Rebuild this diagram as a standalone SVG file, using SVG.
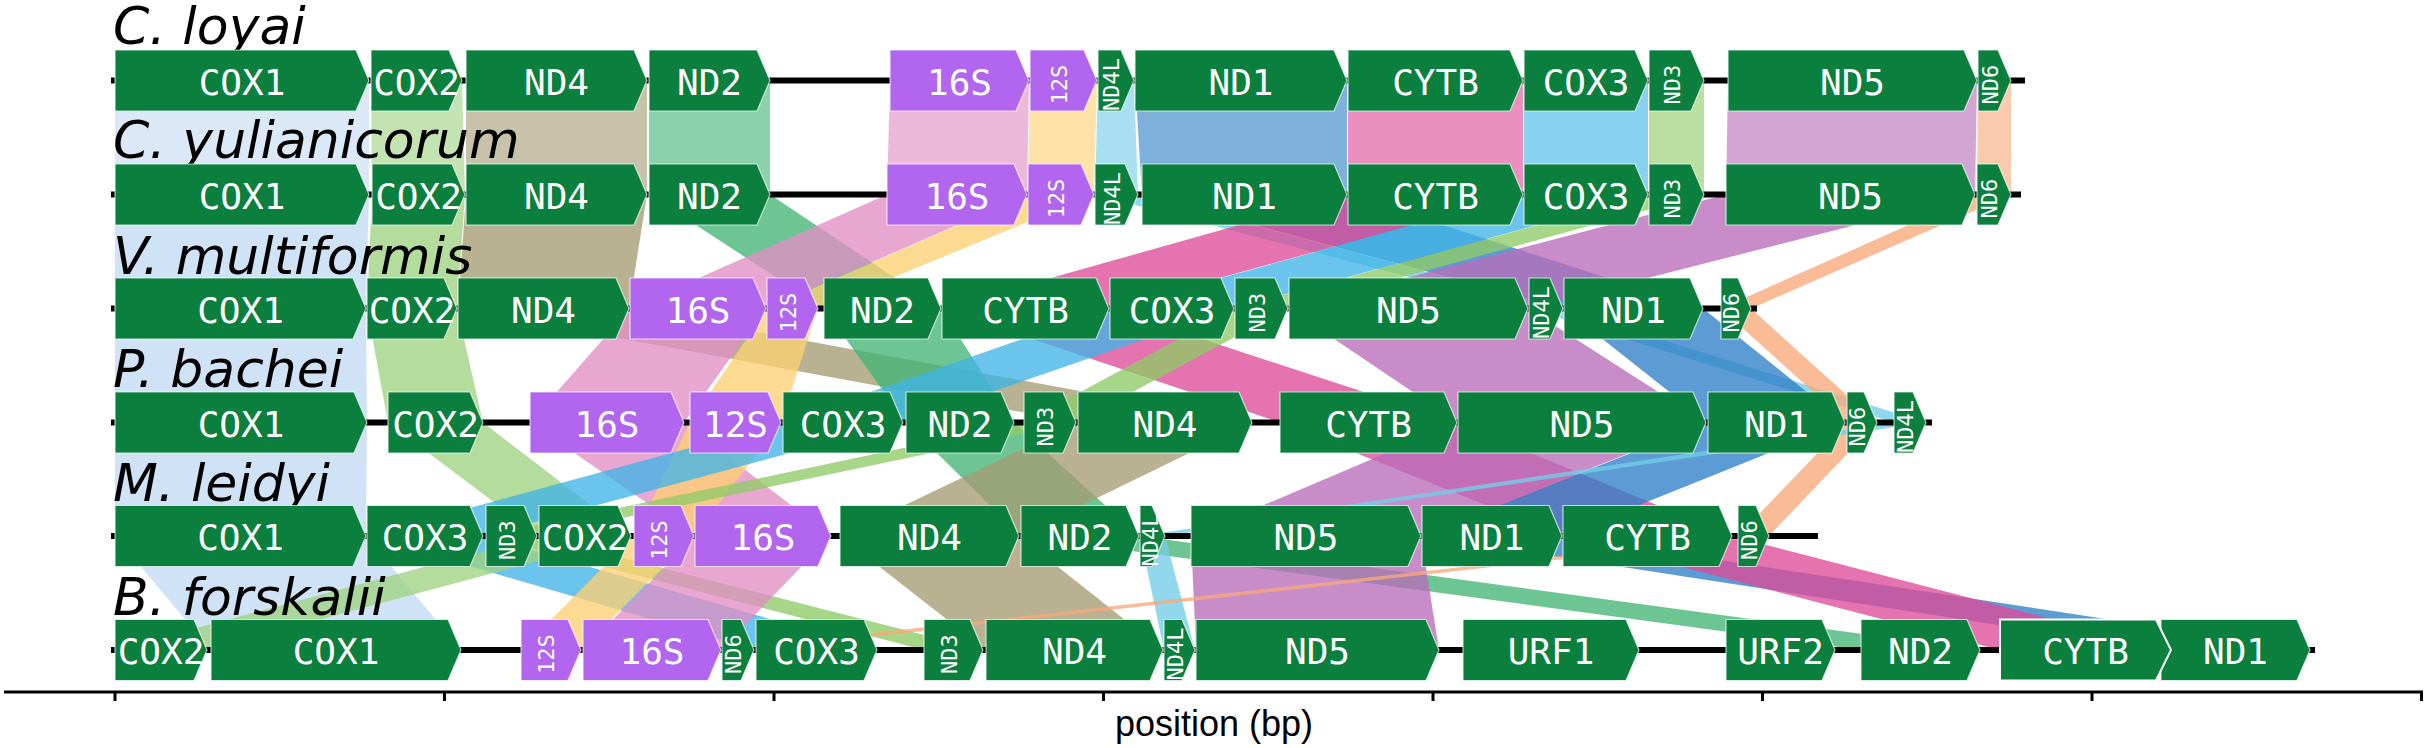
<svg xmlns="http://www.w3.org/2000/svg" width="2428" height="748" viewBox="0 0 2428 748">
<style>
.g{fill:#0b7f3e;stroke:#ffffff;stroke-width:1.2;stroke-opacity:0.7}
.r{fill:#b266f0;stroke:#ffffff;stroke-width:1.2;stroke-opacity:0.7}
.t{font-family:"DejaVu Sans Mono",monospace;font-size:36px;fill:#ffffff;text-anchor:middle}
.v{font-family:"DejaVu Sans Mono",monospace;font-size:22px;fill:#ffffff;text-anchor:middle}
.sp{font-family:"DejaVu Sans",sans-serif;font-style:italic;font-size:52px;fill:#000000}
.bl{stroke:#000000;stroke-width:6;fill:none}
.ax{stroke:#000000;stroke-width:3;fill:none}
.axl{font-family:"Liberation Sans",Arial,sans-serif;font-size:36px;fill:#000000;text-anchor:middle}
#connectors polygon{fill-opacity:0.78}
#connectors .p12 polygon{fill-opacity:0.62}
.COX1{fill:#c3daf2}.COX2{fill:#9ed282}.ND4{fill:#a49c74}.ND2{fill:#43b574}
.S16{fill:#e18ec4}.S12{fill:#fdd073}.ND4L{fill:#72cde8}.ND1{fill:#2e7fc6}
.CYTB{fill:#dc4c98}.COX3{fill:#41b4e6}.ND3{fill:#8fcb66}.ND5{fill:#b86db8}.ND6{fill:#f8a87a}
</style>
<g id="connectors">
<g class="p12">
<polygon class="COX1" points="115,80.5 369,80.5 369,194.5 115,194.5"/>
<polygon class="COX2" points="371,80.5 462,80.5 465,194.5 372,194.5"/>
<polygon class="ND4" points="466,80.5 647,80.5 647,194.5 466,194.5"/>
<polygon class="ND2" points="649,80.5 770,80.5 770,194.5 649,194.5"/>
<polygon class="S16" points="890,80.5 1029,80.5 1027,194.5 887,194.5"/>
<polygon class="S12" points="1030,80.5 1097,80.5 1094,194.5 1028,194.5"/>
<polygon class="ND4L" points="1098,80.5 1134,80.5 1138,194.5 1095,194.5"/>
<polygon class="ND1" points="1135,80.5 1347,80.5 1347,194.5 1142,194.5"/>
<polygon class="CYTB" points="1348,80.5 1523,80.5 1523,194.5 1348,194.5"/>
<polygon class="COX3" points="1524,80.5 1648,80.5 1648,194.5 1524,194.5"/>
<polygon class="ND3" points="1649,80.5 1704,80.5 1704,194.5 1649,194.5"/>
<polygon class="ND5" points="1728,80.5 1977,80.5 1975,194.5 1726,194.5"/>
<polygon class="ND6" points="1978,80.5 2011,80.5 2011,194.5 1977,194.5"/>
</g>
<g class="p23">
<polygon class="COX1" points="115,194.5 369,194.5 366,308.5 115,308.5"/>
<polygon class="COX2" points="372,194.5 465,194.5 457,308.5 367,308.5"/>
<polygon class="ND4" points="466,194.5 647,194.5 629,308.5 458,308.5"/>
<polygon class="ND2" points="649,194.5 770,194.5 941,308.5 824,308.5"/>
<polygon class="S16" points="887,194.5 1027,194.5 766,308.5 630,308.5"/>
<polygon class="S12" points="1028,194.5 1094,194.5 818,308.5 767,308.5"/>
<polygon class="ND4L" points="1095,194.5 1138,194.5 1563,308.5 1529,308.5"/>
<polygon class="ND1" points="1142,194.5 1347,194.5 1703,308.5 1564,308.5"/>
<polygon class="CYTB" points="1348,194.5 1523,194.5 1109,308.5 942,308.5"/>
<polygon class="COX3" points="1524,194.5 1648,194.5 1234,308.5 1110,308.5"/>
<polygon class="ND3" points="1649,194.5 1704,194.5 1288,308.5 1235,308.5"/>
<polygon class="ND5" points="1726,194.5 1975,194.5 1528,308.5 1289,308.5"/>
<polygon class="ND6" points="1977,194.5 2011,194.5 1751,308.5 1721,308.5"/>
</g>
<g class="p34">
<polygon class="COX1" points="115,308.5 366,308.5 367,422.5 115,422.5"/>
<polygon class="COX2" points="367,308.5 457,308.5 483,422.5 388,422.5"/>
<polygon class="ND4" points="458,308.5 629,308.5 1252,422.5 1078,422.5"/>
<polygon class="S16" points="630,308.5 766,308.5 684,422.5 530,422.5"/>
<polygon class="S12" points="767,308.5 818,308.5 781,422.5 690,422.5"/>
<polygon class="ND2" points="824,308.5 941,308.5 1014,422.5 906,422.5"/>
<polygon class="CYTB" points="942,308.5 1109,308.5 1457,422.5 1280,422.5"/>
<polygon class="COX3" points="1110,308.5 1234,308.5 903,422.5 783,422.5"/>
<polygon class="ND3" points="1235,308.5 1288,308.5 1076,422.5 1024,422.5"/>
<polygon class="ND5" points="1289,308.5 1528,308.5 1706,422.5 1458,422.5"/>
<polygon class="ND4L" points="1529,308.5 1563,308.5 1926,422.5 1894,422.5"/>
<polygon class="ND1" points="1564,308.5 1703,308.5 1845,422.5 1708,422.5"/>
<polygon class="ND6" points="1721,308.5 1751,308.5 1877,422.5 1847,422.5"/>
</g>
<g class="p45">
<polygon class="COX1" points="115,422.5 367,422.5 366,536 115,536"/>
<polygon class="COX2" points="388,422.5 483,422.5 631,536 539,536"/>
<polygon class="S16" points="530,422.5 684,422.5 831,536 695,536"/>
<polygon class="S12" points="690,422.5 781,422.5 694,536 634,536"/>
<polygon class="COX3" points="783,422.5 903,422.5 483,536 367,536"/>
<polygon class="ND2" points="906,422.5 1014,422.5 1139,536 1021,536"/>
<polygon class="ND3" points="1024,422.5 1076,422.5 537,536 486,536"/>
<polygon class="ND4" points="1078,422.5 1252,422.5 1019,536 840,536"/>
<polygon class="CYTB" points="1280,422.5 1457,422.5 1732,536 1563,536"/>
<polygon class="ND5" points="1458,422.5 1706,422.5 1421,536 1191,536"/>
<polygon class="ND1" points="1708,422.5 1845,422.5 1562,536 1422,536"/>
<polygon class="ND6" points="1847,422.5 1877,422.5 1769,536 1738,536"/>
<polygon class="ND4L" points="1894,422.5 1926,422.5 1165,536 1140,536"/>
</g>
<g class="p56">
<polygon class="COX1" points="115,536 366,536 461,650 211,650"/>
<polygon class="COX3" points="367,536 483,536 877,650 756,650"/>
<polygon class="ND3" points="486,536 537,536 983,650 924,650"/>
<polygon class="COX2" points="539,536 631,536 207,650 115,650"/>
<polygon class="S12" points="634,536 694,536 581,650 521,650"/>
<polygon class="S16" points="695,536 831,536 721,650 583,650"/>
<polygon class="ND4" points="840,536 1019,536 1163,650 986,650"/>
<polygon class="ND2" points="1021,536 1139,536 1980,650 1861,650"/>
<polygon class="ND4L" points="1140,536 1165,536 1195,650 1164,650"/>
<polygon class="ND5" points="1191,536 1421,536 1439,650 1196,650"/>
<polygon class="ND1" points="1422,536 1562,536 2310,650 2161,650"/>
<polygon class="CYTB" points="1563,536 1732,536 2171,650 2000,650"/>
<polygon class="ND6" points="1738,536 1769,536 754,650 722,650"/>
</g>
</g>
<g id="baselines">
<line class="bl" x1="111" y1="80.5" x2="2025" y2="80.5"/>
<line class="bl" x1="111" y1="194.5" x2="2021" y2="194.5"/>
<line class="bl" x1="111" y1="308.5" x2="1757" y2="308.5"/>
<line class="bl" x1="111" y1="422.5" x2="1932" y2="422.5"/>
<line class="bl" x1="111" y1="536" x2="1818" y2="536"/>
<line class="bl" x1="111" y1="650" x2="2315" y2="650"/>
</g>
<g id="C_loyai">
<text class="sp" x="113" y="44">C. loyai</text>
<g id="r1-COX1"><polygon class="g" points="115,50 356,50 369,80.5 356,111 115,111"/><text class="t" x="242" y="94.5">COX1</text></g>
<g id="r1-COX2"><polygon class="g" points="371,50 449,50 462,80.5 449,111 371,111"/><text class="t" x="416.5" y="94.5">COX2</text></g>
<g id="r1-ND4"><polygon class="g" points="466,50 634,50 647,80.5 634,111 466,111"/><text class="t" x="556.5" y="94.5">ND4</text></g>
<g id="r1-ND2"><polygon class="g" points="649,50 757,50 770,80.5 757,111 649,111"/><text class="t" x="709.5" y="94.5">ND2</text></g>
<g id="r1-16S"><polygon class="r" points="890,50 1016,50 1029,80.5 1016,111 890,111"/><text class="t" x="959.5" y="94.5">16S</text></g>
<g id="r1-12S"><polygon class="r" points="1030,50 1084,50 1097,80.5 1084,111 1030,111"/><text class="v" transform="translate(1058.5,84.5) rotate(-90)" y="8">12S</text></g>
<g id="r1-ND4L"><polygon class="g" points="1098,50 1121,50 1134,80.5 1121,111 1098,111"/><text class="v" transform="translate(1111,84.5) rotate(-90)" y="8">ND4L</text></g>
<g id="r1-ND1"><polygon class="g" points="1135,50 1334,50 1347,80.5 1334,111 1135,111"/><text class="t" x="1241" y="94.5">ND1</text></g>
<g id="r1-CYTB"><polygon class="g" points="1348,50 1510,50 1523,80.5 1510,111 1348,111"/><text class="t" x="1435.5" y="94.5">CYTB</text></g>
<g id="r1-COX3"><polygon class="g" points="1524,50 1635,50 1648,80.5 1635,111 1524,111"/><text class="t" x="1586" y="94.5">COX3</text></g>
<g id="r1-ND3"><polygon class="g" points="1649,50 1691,50 1704,80.5 1691,111 1649,111"/><text class="v" transform="translate(1671.5,84.5) rotate(-90)" y="8">ND3</text></g>
<g id="r1-ND5"><polygon class="g" points="1728,50 1964,50 1977,80.5 1964,111 1728,111"/><text class="t" x="1852.5" y="94.5">ND5</text></g>
<g id="r1-ND6"><polygon class="g" points="1978,50 1998,50 2011,80.5 1998,111 1978,111"/><text class="v" transform="translate(1989.5,84.5) rotate(-90)" y="8">ND6</text></g>
</g>
<g id="C_yulianicorum">
<text class="sp" x="113" y="158">C. yulianicorum</text>
<g id="r2-COX1"><polygon class="g" points="115,164 356,164 369,194.5 356,225 115,225"/><text class="t" x="242" y="208.5">COX1</text></g>
<g id="r2-COX2"><polygon class="g" points="372,164 452,164 465,194.5 452,225 372,225"/><text class="t" x="418.5" y="208.5">COX2</text></g>
<g id="r2-ND4"><polygon class="g" points="466,164 634,164 647,194.5 634,225 466,225"/><text class="t" x="556.5" y="208.5">ND4</text></g>
<g id="r2-ND2"><polygon class="g" points="649,164 757,164 770,194.5 757,225 649,225"/><text class="t" x="709.5" y="208.5">ND2</text></g>
<g id="r2-16S"><polygon class="r" points="887,164 1014,164 1027,194.5 1014,225 887,225"/><text class="t" x="957" y="208.5">16S</text></g>
<g id="r2-12S"><polygon class="r" points="1028,164 1081,164 1094,194.5 1081,225 1028,225"/><text class="v" transform="translate(1056,198.5) rotate(-90)" y="8">12S</text></g>
<g id="r2-ND4L"><polygon class="g" points="1095,164 1125,164 1138,194.5 1125,225 1095,225"/><text class="v" transform="translate(1111.5,198.5) rotate(-90)" y="8">ND4L</text></g>
<g id="r2-ND1"><polygon class="g" points="1142,164 1334,164 1347,194.5 1334,225 1142,225"/><text class="t" x="1244.5" y="208.5">ND1</text></g>
<g id="r2-CYTB"><polygon class="g" points="1348,164 1510,164 1523,194.5 1510,225 1348,225"/><text class="t" x="1435.5" y="208.5">CYTB</text></g>
<g id="r2-COX3"><polygon class="g" points="1524,164 1635,164 1648,194.5 1635,225 1524,225"/><text class="t" x="1586" y="208.5">COX3</text></g>
<g id="r2-ND3"><polygon class="g" points="1649,164 1691,164 1704,194.5 1691,225 1649,225"/><text class="v" transform="translate(1671.5,198.5) rotate(-90)" y="8">ND3</text></g>
<g id="r2-ND5"><polygon class="g" points="1726,164 1962,164 1975,194.5 1962,225 1726,225"/><text class="t" x="1850.5" y="208.5">ND5</text></g>
<g id="r2-ND6"><polygon class="g" points="1977,164 1998,164 2011,194.5 1998,225 1977,225"/><text class="v" transform="translate(1989,198.5) rotate(-90)" y="8">ND6</text></g>
</g>
<g id="V_multiformis">
<text class="sp" x="113" y="274">V. multiformis</text>
<g id="r3-COX1"><polygon class="g" points="115,278 353,278 366,308.5 353,339 115,339"/><text class="t" x="240.5" y="322.5">COX1</text></g>
<g id="r3-COX2"><polygon class="g" points="367,278 444,278 457,308.5 444,339 367,339"/><text class="t" x="412" y="322.5">COX2</text></g>
<g id="r3-ND4"><polygon class="g" points="458,278 616,278 629,308.5 616,339 458,339"/><text class="t" x="543.5" y="322.5">ND4</text></g>
<g id="r3-16S"><polygon class="r" points="630,278 753,278 766,308.5 753,339 630,339"/><text class="t" x="698" y="322.5">16S</text></g>
<g id="r3-12S"><polygon class="r" points="767,278 805,278 818,308.5 805,339 767,339"/><text class="v" transform="translate(787.5,312.5) rotate(-90)" y="8">12S</text></g>
<g id="r3-ND2"><polygon class="g" points="824,278 928,278 941,308.5 928,339 824,339"/><text class="t" x="882.5" y="322.5">ND2</text></g>
<g id="r3-CYTB"><polygon class="g" points="942,278 1096,278 1109,308.5 1096,339 942,339"/><text class="t" x="1025.5" y="322.5">CYTB</text></g>
<g id="r3-COX3"><polygon class="g" points="1110,278 1221,278 1234,308.5 1221,339 1110,339"/><text class="t" x="1172" y="322.5">COX3</text></g>
<g id="r3-ND3"><polygon class="g" points="1235,278 1275,278 1288,308.5 1275,339 1235,339"/><text class="v" transform="translate(1256.5,312.5) rotate(-90)" y="8">ND3</text></g>
<g id="r3-ND5"><polygon class="g" points="1289,278 1515,278 1528,308.5 1515,339 1289,339"/><text class="t" x="1408.5" y="322.5">ND5</text></g>
<g id="r3-ND4L"><polygon class="g" points="1529,278 1550,278 1563,308.5 1550,339 1529,339"/><text class="v" transform="translate(1541,312.5) rotate(-90)" y="8">ND4L</text></g>
<g id="r3-ND1"><polygon class="g" points="1564,278 1690,278 1703,308.5 1690,339 1564,339"/><text class="t" x="1633.5" y="322.5">ND1</text></g>
<g id="r3-ND6"><polygon class="g" points="1721,278 1738,278 1751,308.5 1738,339 1721,339"/><text class="v" transform="translate(1731,312.5) rotate(-90)" y="8">ND6</text></g>
</g>
<g id="P_bachei">
<text class="sp" x="113" y="387">P. bachei</text>
<g id="r4-COX1"><polygon class="g" points="115,392 354,392 367,422.5 354,453 115,453"/><text class="t" x="241" y="436.5">COX1</text></g>
<g id="r4-COX2"><polygon class="g" points="388,392 470,392 483,422.5 470,453 388,453"/><text class="t" x="435.5" y="436.5">COX2</text></g>
<g id="r4-16S"><polygon class="r" points="530,392 671,392 684,422.5 671,453 530,453"/><text class="t" x="607" y="436.5">16S</text></g>
<g id="r4-12S"><polygon class="r" points="690,392 768,392 781,422.5 768,453 690,453"/><text class="t" x="735.5" y="436.5">12S</text></g>
<g id="r4-COX3"><polygon class="g" points="783,392 890,392 903,422.5 890,453 783,453"/><text class="t" x="843" y="436.5">COX3</text></g>
<g id="r4-ND2"><polygon class="g" points="906,392 1001,392 1014,422.5 1001,453 906,453"/><text class="t" x="960" y="436.5">ND2</text></g>
<g id="r4-ND3"><polygon class="g" points="1024,392 1063,392 1076,422.5 1063,453 1024,453"/><text class="v" transform="translate(1045,426.5) rotate(-90)" y="8">ND3</text></g>
<g id="r4-ND4"><polygon class="g" points="1078,392 1239,392 1252,422.5 1239,453 1078,453"/><text class="t" x="1165" y="436.5">ND4</text></g>
<g id="r4-CYTB"><polygon class="g" points="1280,392 1444,392 1457,422.5 1444,453 1280,453"/><text class="t" x="1368.5" y="436.5">CYTB</text></g>
<g id="r4-ND5"><polygon class="g" points="1458,392 1693,392 1706,422.5 1693,453 1458,453"/><text class="t" x="1582" y="436.5">ND5</text></g>
<g id="r4-ND1"><polygon class="g" points="1708,392 1832,392 1845,422.5 1832,453 1708,453"/><text class="t" x="1776.5" y="436.5">ND1</text></g>
<g id="r4-ND6"><polygon class="g" points="1847,392 1864,392 1877,422.5 1864,453 1847,453"/><text class="v" transform="translate(1857,426.5) rotate(-90)" y="8">ND6</text></g>
<g id="r4-ND4L"><polygon class="g" points="1894,392 1913,392 1926,422.5 1913,453 1894,453"/><text class="v" transform="translate(1905,426.5) rotate(-90)" y="8">ND4L</text></g>
</g>
<g id="M_leidyi">
<text class="sp" x="113" y="501">M. leidyi</text>
<g id="r5-COX1"><polygon class="g" points="115,505.5 353,505.5 366,536 353,566.5 115,566.5"/><text class="t" x="240.5" y="550">COX1</text></g>
<g id="r5-COX3"><polygon class="g" points="367,505.5 470,505.5 483,536 470,566.5 367,566.5"/><text class="t" x="425" y="550">COX3</text></g>
<g id="r5-ND3"><polygon class="g" points="486,505.5 524,505.5 537,536 524,566.5 486,566.5"/><text class="v" transform="translate(506.5,540) rotate(-90)" y="8">ND3</text></g>
<g id="r5-COX2"><polygon class="g" points="539,505.5 618,505.5 631,536 618,566.5 539,566.5"/><text class="t" x="585" y="550">COX2</text></g>
<g id="r5-12S"><polygon class="r" points="634,505.5 681,505.5 694,536 681,566.5 634,566.5"/><text class="v" transform="translate(659,540) rotate(-90)" y="8">12S</text></g>
<g id="r5-16S"><polygon class="r" points="695,505.5 818,505.5 831,536 818,566.5 695,566.5"/><text class="t" x="763" y="550">16S</text></g>
<g id="r5-ND4"><polygon class="g" points="840,505.5 1006,505.5 1019,536 1006,566.5 840,566.5"/><text class="t" x="929.5" y="550">ND4</text></g>
<g id="r5-ND2"><polygon class="g" points="1021,505.5 1126,505.5 1139,536 1126,566.5 1021,566.5"/><text class="t" x="1080" y="550">ND2</text></g>
<g id="r5-ND4L"><polygon class="g" points="1140,505.5 1152,505.5 1165,536 1152,566.5 1140,566.5"/><text class="v" transform="translate(1150,540) rotate(-90)" y="8">ND4L</text></g>
<g id="r5-ND5"><polygon class="g" points="1191,505.5 1408,505.5 1421,536 1408,566.5 1191,566.5"/><text class="t" x="1306" y="550">ND5</text></g>
<g id="r5-ND1"><polygon class="g" points="1422,505.5 1549,505.5 1562,536 1549,566.5 1422,566.5"/><text class="t" x="1492" y="550">ND1</text></g>
<g id="r5-CYTB"><polygon class="g" points="1563,505.5 1719,505.5 1732,536 1719,566.5 1563,566.5"/><text class="t" x="1647.5" y="550">CYTB</text></g>
<g id="r5-ND6"><polygon class="g" points="1738,505.5 1756,505.5 1769,536 1756,566.5 1738,566.5"/><text class="v" transform="translate(1748.5,540) rotate(-90)" y="8">ND6</text></g>
</g>
<g id="B_forskalii">
<text class="sp" x="113" y="615">B. forskalii</text>
<g id="r6-COX2"><polygon class="g" points="115,619.5 194,619.5 207,650 194,680.5 115,680.5"/><text class="t" x="161" y="664">COX2</text></g>
<g id="r6-COX1"><polygon class="g" points="211,619.5 448,619.5 461,650 448,680.5 211,680.5"/><text class="t" x="336" y="664">COX1</text></g>
<g id="r6-12S"><polygon class="r" points="521,619.5 568,619.5 581,650 568,680.5 521,680.5"/><text class="v" transform="translate(546,654) rotate(-90)" y="8">12S</text></g>
<g id="r6-16S"><polygon class="r" points="583,619.5 708,619.5 721,650 708,680.5 583,680.5"/><text class="t" x="652" y="664">16S</text></g>
<g id="r6-ND6"><polygon class="g" points="722,619.5 741,619.5 754,650 741,680.5 722,680.5"/><text class="v" transform="translate(733,654) rotate(-90)" y="8">ND6</text></g>
<g id="r6-COX3"><polygon class="g" points="756,619.5 864,619.5 877,650 864,680.5 756,680.5"/><text class="t" x="816.5" y="664">COX3</text></g>
<g id="r6-ND3"><polygon class="g" points="924,619.5 970,619.5 983,650 970,680.5 924,680.5"/><text class="v" transform="translate(948.5,654) rotate(-90)" y="8">ND3</text></g>
<g id="r6-ND4"><polygon class="g" points="986,619.5 1150,619.5 1163,650 1150,680.5 986,680.5"/><text class="t" x="1074.5" y="664">ND4</text></g>
<g id="r6-ND4L"><polygon class="g" points="1164,619.5 1182,619.5 1195,650 1182,680.5 1164,680.5"/><text class="v" transform="translate(1174.5,654) rotate(-90)" y="8">ND4L</text></g>
<g id="r6-ND5"><polygon class="g" points="1196,619.5 1426,619.5 1439,650 1426,680.5 1196,680.5"/><text class="t" x="1317.5" y="664">ND5</text></g>
<g id="r6-URF1"><polygon class="g" points="1463,619.5 1626,619.5 1639,650 1626,680.5 1463,680.5"/><text class="t" x="1551" y="664">URF1</text></g>
<g id="r6-URF2"><polygon class="g" points="1726,619.5 1822,619.5 1835,650 1822,680.5 1726,680.5"/><text class="t" x="1780.5" y="664">URF2</text></g>
<g id="r6-ND2"><polygon class="g" points="1861,619.5 1967,619.5 1980,650 1967,680.5 1861,680.5"/><text class="t" x="1920.5" y="664">ND2</text></g>
<g id="r6-ND1"><polygon class="g" points="2161,619.5 2297,619.5 2310,650 2297,680.5 2161,680.5"/><text class="t" x="2235.5" y="664">ND1</text></g>
<g id="r6-CYTB"><polygon class="g" points="2000,619.5 2156,619.5 2171,650 2156,680.5 2000,680.5" style="stroke-width:2;stroke-opacity:1"/><text class="t" x="2085.5" y="664">CYTB</text></g>
</g>
<g id="axis">
<line class="ax" x1="4" y1="692" x2="2423" y2="692"/>
<line class="ax" x1="115" y1="692" x2="115" y2="701"/>
<line class="ax" x1="444.5" y1="692" x2="444.5" y2="701"/>
<line class="ax" x1="774" y1="692" x2="774" y2="701"/>
<line class="ax" x1="1103.5" y1="692" x2="1103.5" y2="701"/>
<line class="ax" x1="1433" y1="692" x2="1433" y2="701"/>
<line class="ax" x1="1762.5" y1="692" x2="1762.5" y2="701"/>
<line class="ax" x1="2092" y1="692" x2="2092" y2="701"/>
<line class="ax" x1="2421.5" y1="692" x2="2421.5" y2="701"/>
<text class="axl" x="1214" y="736">position (bp)</text>
</g>
</svg>
